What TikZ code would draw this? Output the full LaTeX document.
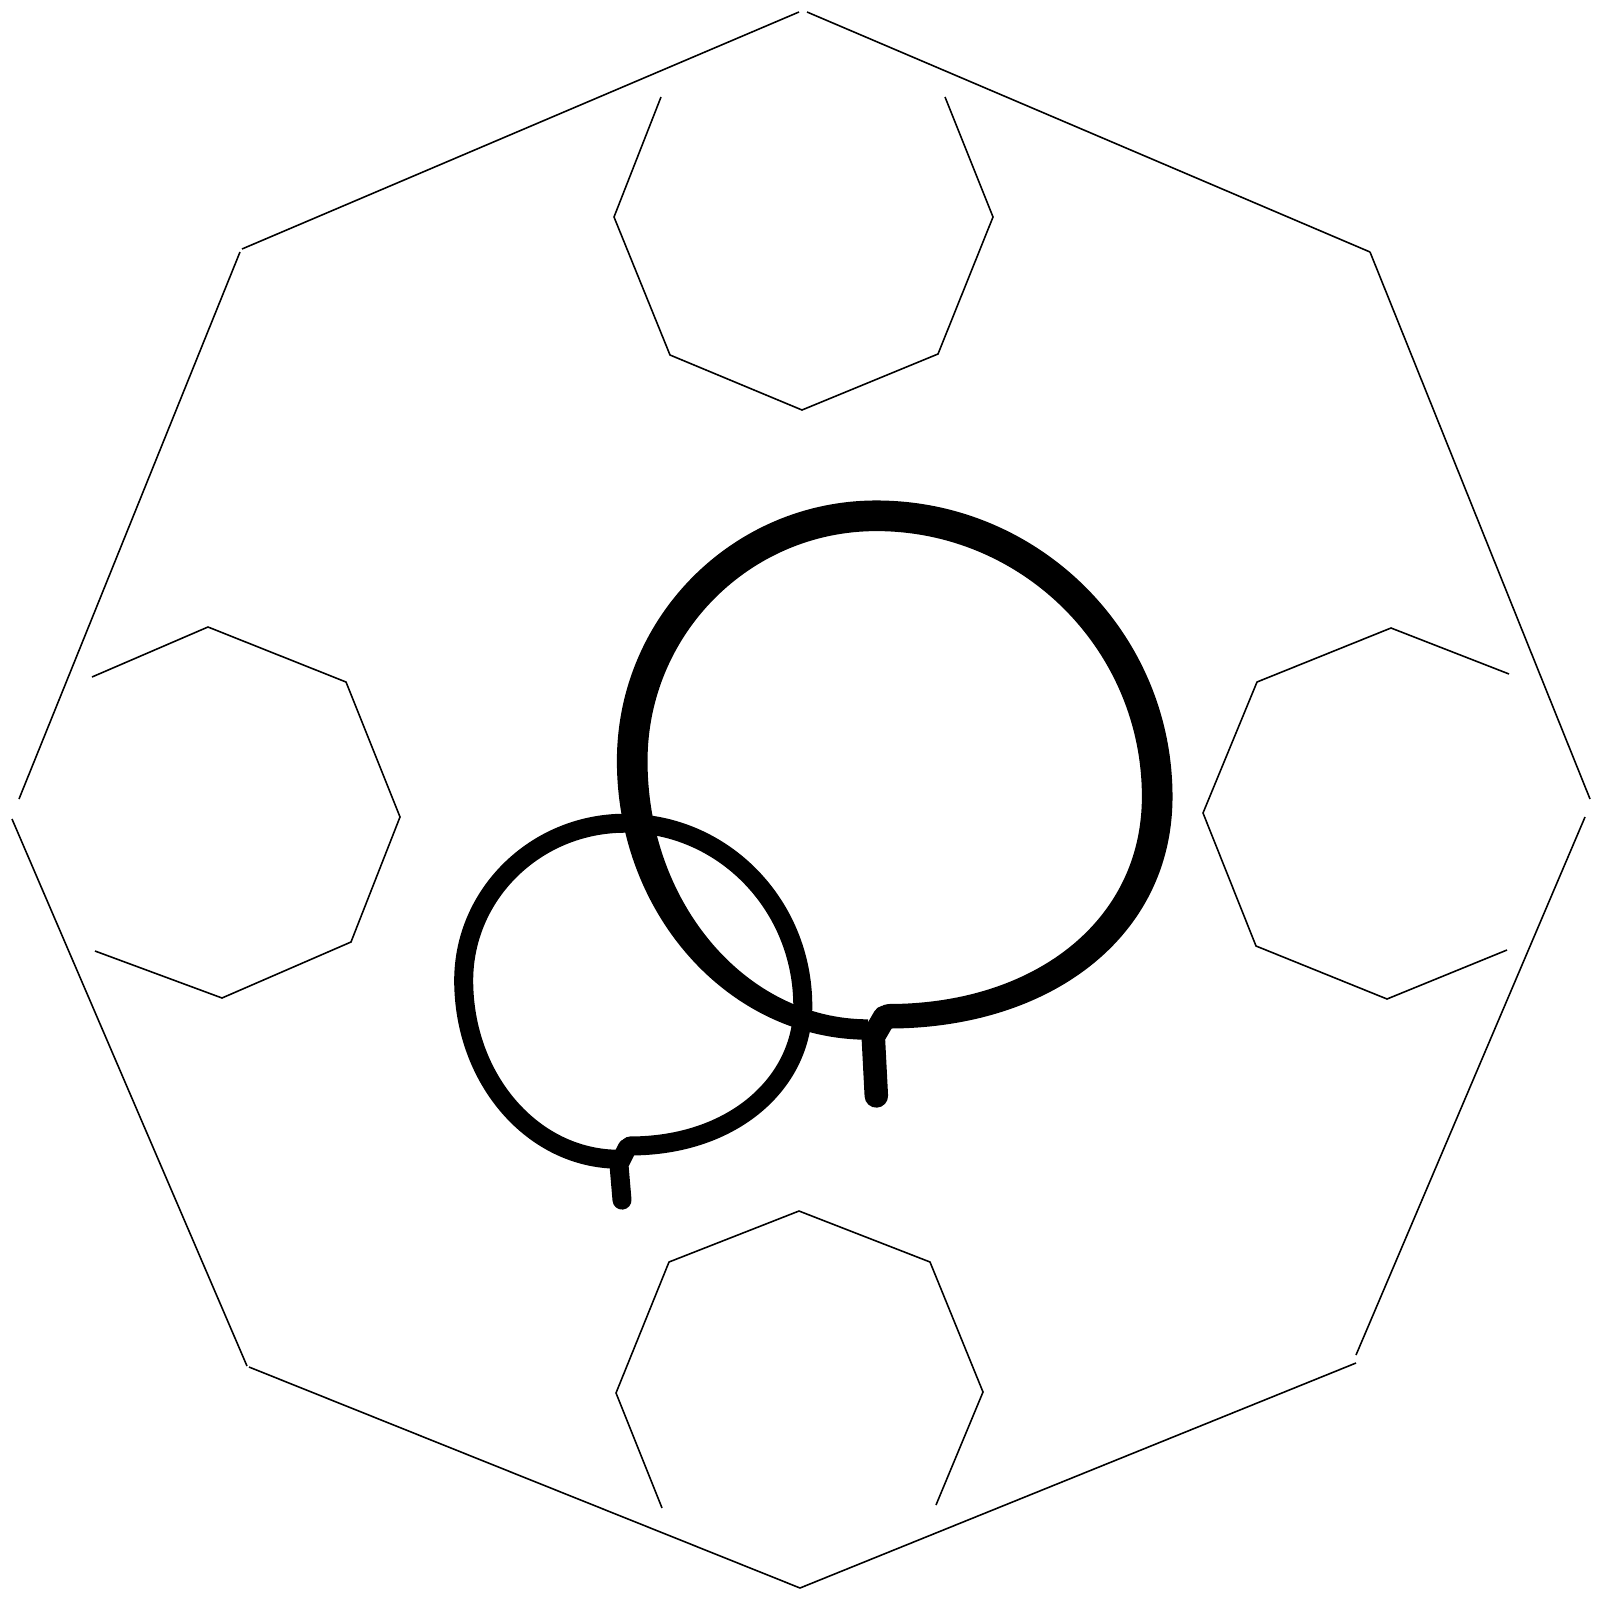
\documentclass[tikz,border=0pt]{standalone}
\begin{document}
\begin{tikzpicture}[x=0.01cm,y=-0.01cm,
  thinline/.style={line width=0.45pt,black},
  bigtail/.style={line width=0.235cm,line cap=round,line join=round,black},
  smallloop/.style={line width=0.19cm,line cap=round,line join=round,black}]
\useasboundingbox (0,0) rectangle (1600,1600);
% outer octagon edges
\draw[thinline] (799,12) -- (242,249);
\draw[thinline] (240,252) -- (19,799);
\draw[thinline] (12,819) -- (247,1366);
\draw[thinline] (249,1367) -- (800,1588);
\draw[thinline] (800,1588) -- (1356,1363);
\draw[thinline] (1356,1355) -- (1585,817);
\draw[thinline] (1590,799) -- (1370,252);
\draw[thinline] (1370,252) -- (807,12);
% top inner octagon
\draw[thinline] (661,97) -- (614,217) -- (670,355) -- (802,410) -- (938,354) -- (993,217) -- (945,97);
% left inner octagon
\draw[thinline] (92,677) -- (208,627) -- (346,682) -- (400,817) -- (351,942) -- (222,998) -- (95,951);
% right inner octagon
\draw[thinline] (1509,674) -- (1391,628) -- (1257,682) -- (1203,813) -- (1256,946) -- (1387,999) -- (1507,950);
% bottom inner octagon
\draw[thinline] (662,1508) -- (616,1393) -- (669,1262) -- (799,1211) -- (930,1262) -- (983,1392) -- (936,1505);
% loops (coordinates in 1568-scale units)
\begin{scope}[x=0.0102041cm,y=-0.0102041cm]
% big loop as filled band
\fill[black] (870,1007) .. controls (1028.5,1007) and (1148,917.3) .. (1148,780)
  .. controls (1148,620) and (1018,490) .. (858,490)
  .. controls (717.8,490) and (604,604.2) .. (604,745)
  .. controls (604,895.7) and (714.2,1018) .. (850,1018)
  -- (850,998)
  .. controls (730.8,998) and (634,884.7) .. (634,745)
  .. controls (634,620.8) and (734.4,520) .. (858,520)
  .. controls (1001.5,520) and (1118,636.5) .. (1118,780)
  .. controls (1118,902.8) and (1011.4,983) .. (870,983)
  -- cycle;
\fill[black] (870,995) circle[radius=12];
\draw[bigtail] (858,1073) -- (855,1015) -- (866,996);
% small loop
\draw[smallloop] (617,1122) .. controls (718,1122) and (786,1060) .. (786,985)
  .. controls (786,886) and (708,806) .. (612,806)
  .. controls (525,806) and (454,875) .. (454,960)
  .. controls (454,1057) and (522,1135) .. (606,1135);
\draw[smallloop] (609,1175) -- (606,1140) -- (614,1124);
\end{scope}
\end{tikzpicture}
\end{document}
